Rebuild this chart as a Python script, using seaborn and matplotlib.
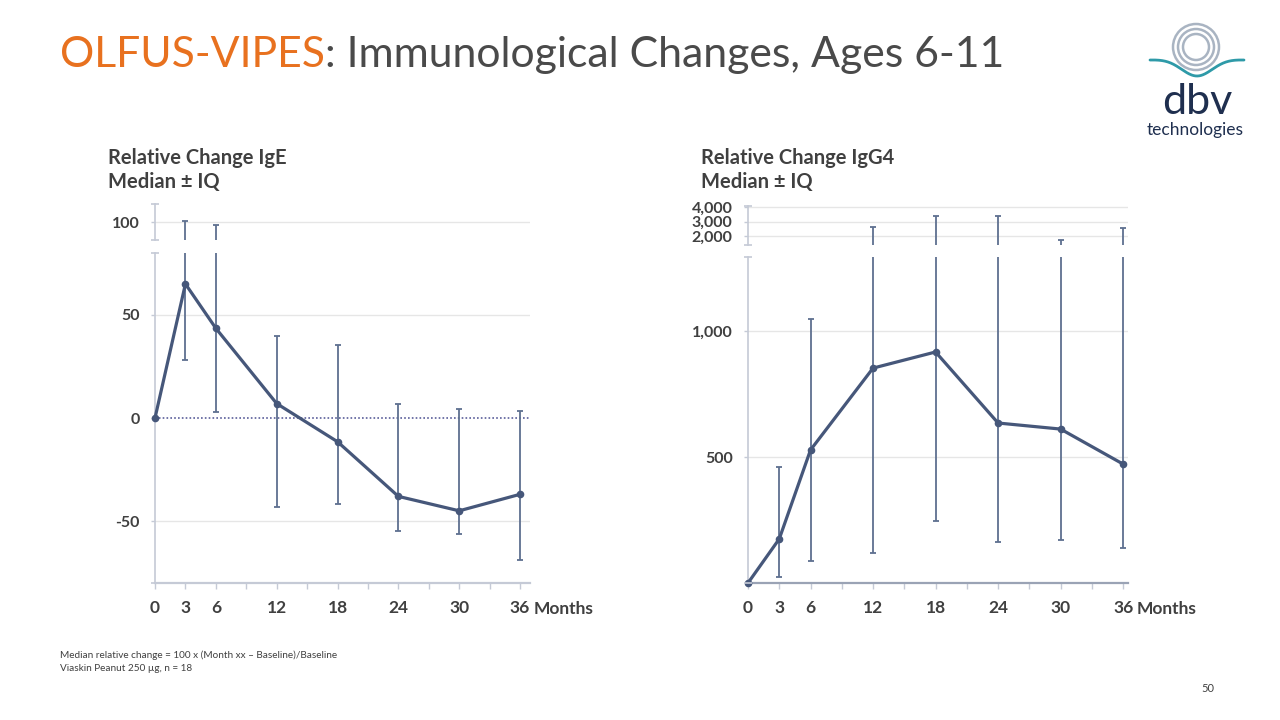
import numpy as np
import pandas as pd
import matplotlib.pyplot as plt
import seaborn as sns
from matplotlib.patches import Circle

# Data
months = [0, 3, 6, 12, 18, 24, 30, 36]
ige_median = [0, 65, 43.5, 7, -11.5, -38, -45, -37]
ige_q1 = [0, 28, 3, -43, -41.5, -55, -56, -69]
ige_q3 = [0, 100.5, 98.5, 40, 35.5, 7, 4.5, 3.5]

igg4_median = [0, 175, 528, 853, 917, 635, 611, 472]
igg4_q1 = [0, 24, 87, 119, 246, 163, 171, 139]
igg4_q3 = [0, 460, 1048, 2600, 3350, 3400, 1720, 2550]

x_tick_labels = [0, 3, 6, 12, 18, 24, 30, 36]

ige = pd.DataFrame({"month": months, "median": ige_median, "q1": ige_q1, "q3": ige_q3})
igg4 = pd.DataFrame({"month": months, "median": igg4_median, "q1": igg4_q1, "q3": igg4_q3})

sns.set_theme(style="white")
plt.rcParams["font.family"] = ["Lato", "DejaVu Sans"]

W, H = 1280, 720
TXT = "#404040"
LINE = "#46577A"
ERR = "#5E7090"
SPINE = "#C5CAD6"
GRID = "#E6E6E6"

fig = plt.figure(figsize=(12.8, 7.2), dpi=100)


def rect(x0, y0, x1, y1):
    return [x0 / W, 1 - y1 / H, (x1 - x0) / W, (y1 - y0) / H]


def draw_series(ax, df, marker=True):
    ax.vlines(df["month"], df["q1"], df["q3"], color=ERR, lw=1.3, zorder=2)
    ax.scatter(df["month"], df["q1"], marker="_", s=25, color=ERR, lw=1.3, zorder=2)
    ax.scatter(df["month"], df["q3"], marker="_", s=25, color=ERR, lw=1.3, zorder=2)
    if marker:
        sns.lineplot(data=df, x="month", y="median", ax=ax, color=LINE, lw=2.3,
                     marker="o", markersize=5.5, markeredgewidth=0, zorder=3,
                     clip_on=False)


def style_axes(ax, yticks, ylabels, xmax, ylim, bottom=True, bottom_color=SPINE):
    ax.set_xlim(0, xmax)
    ax.set_ylim(*ylim)
    for s in ["top", "right"]:
        ax.spines[s].set_visible(False)
    ax.spines["left"].set_color(SPINE)
    ax.spines["left"].set_linewidth(1.2)
    if bottom:
        ax.spines["bottom"].set_color(bottom_color)
        ax.spines["bottom"].set_linewidth(1.6)
        ax.set_xticks(np.arange(0, 37, 3))
        ax.set_xticklabels([str(m) if m in x_tick_labels else "" for m in np.arange(0, 37, 3)],
                           fontsize=12.5, fontweight="bold", color=TXT)
        ax.tick_params(axis="x", bottom=True, length=4, width=1, color=SPINE, pad=8)
    else:
        ax.spines["bottom"].set_visible(False)
        ax.set_xticks([])
    ax.set_yticks(yticks)
    ax.set_yticklabels(ylabels, fontsize=11.5, fontweight="bold", color=TXT)
    ax.tick_params(axis="y", left=True, length=3, width=1, color=SPINE, pad=8)
    ax.yaxis.grid(True, color=GRID, lw=1)
    ax.set_axisbelow(True)
    ax.set_xlabel("")
    ax.set_ylabel("")
    ax.patch.set_alpha(0)


# ---- IgE panel
l_x0, l_x1 = 155, 530
ige_xmax = (l_x1 - l_x0) / 10.14
ax1 = fig.add_axes(rect(l_x0, 253, l_x1, 583))
draw_series(ax1, ige)
ax1.axhline(0, color="#5A5E9A", lw=1.2, ls=(0, (1, 1.3)), zorder=1)
style_axes(ax1, [-50, 0, 50], ["-50", "0", "50"], ige_xmax, (-80, 80))
ax1.yaxis.grid(False)
for yv in [-50, 50]:
    ax1.axhline(yv, color=GRID, lw=1, zorder=0)

ax1u = fig.add_axes(rect(l_x0, 204, l_x1, 240))
draw_series(ax1u, ige, marker=False)
style_axes(ax1u, [100], ["100"], ige_xmax, (91.3, 108.7), bottom=False)

# ---- IgG4 panel
r_x0, r_x1 = 748, 1128
igg_xmax = (r_x1 - r_x0) / 10.42
ax2 = fig.add_axes(rect(r_x0, 257, r_x1, 583))
draw_series(ax2, igg4)
style_axes(ax2, [500, 1000], ["500", "1,000"], igg_xmax, (0, 1294), bottom_color="#9AA3B5")

ax2u = fig.add_axes(rect(r_x0, 206, r_x1, 245))
draw_series(ax2u, igg4, marker=False)
style_axes(ax2u, [2000, 3000, 4000], ["2,000", "3,000", "4,000"], igg_xmax, (1380, 4070),
           bottom=False)

# break caps on the left spines
for ax in [ax1, ax1u, ax2, ax2u]:
    ax.scatter([0, 0], ax.get_ylim(), marker="_", s=30, color=SPINE, lw=1.2,
               clip_on=False, zorder=4)

# "Months" after 36
for ax in [ax1, ax2]:
    ax.annotate("Months", xy=(36, 0), xycoords=("data", "axes fraction"),
                xytext=(10, -13), textcoords="offset points", ha="left", va="top",
                fontsize=12.5, fontweight="bold", color=TXT)

# ---- texts
fig.text(60 / W, 1 - 55 / H, "OLFUS-VIPES", fontsize=30.8, color="#E8711F", va="center")
title_rest = fig.text(0, 1 - 55 / H, ": Immunological Changes, Ages 6-11", fontsize=30.8,
                      color="#4A4A4A", va="center")
fig.canvas.draw()
bb = fig.texts[0].get_window_extent()
title_rest.set_x(bb.x1 / W)

fig.text(108 / W, 1 - 170 / H, "Relative Change IgE\nMedian ± IQ", fontsize=14.5,
         fontweight="bold", color=TXT, va="center", linespacing=1.3)
fig.text(701 / W, 1 - 170 / H, "Relative Change IgG4\nMedian ± IQ", fontsize=14.5,
         fontweight="bold", color=TXT, va="center", linespacing=1.3)

fig.text(60 / W, 1 - 662 / H, "Median relative change = 100 x (Month xx \u2013 Baseline)/Baseline\n"
         "Viaskin Peanut 250 \u00b5g, n = 18", fontsize=7.2, color=TXT, va="center",
         linespacing=1.55)
fig.text(1208 / W, 1 - 688 / H, "50", fontsize=8, color=TXT, ha="center", va="center")

# ---- logo
lax = fig.add_axes([0, 0, 1, 1])
lax.set_xlim(0, W)
lax.set_ylim(H, 0)
lax.axis("off")
for r in [23, 18, 13]:
    lax.add_patch(Circle((1196, 47), r, fill=False, ec="#A9B4C2", lw=1.8))
wx = np.linspace(1150, 1244, 200)
wy = 62 + 18 * np.exp(-((wx - 1197) / 22) ** 2) - 4 * np.exp(-((wx - 1197) / 60) ** 2)
lax.plot(wx, wy, color="#2E9AA8", lw=2)
lax.text(1197, 102, "dbv", fontsize=31, color="#1F2F4F", ha="center", va="center")
lax.text(1195, 130, "technologies", fontsize=12.5, color="#1F2F4F", ha="center", va="center")

fig.savefig("out.png", dpi=100)
